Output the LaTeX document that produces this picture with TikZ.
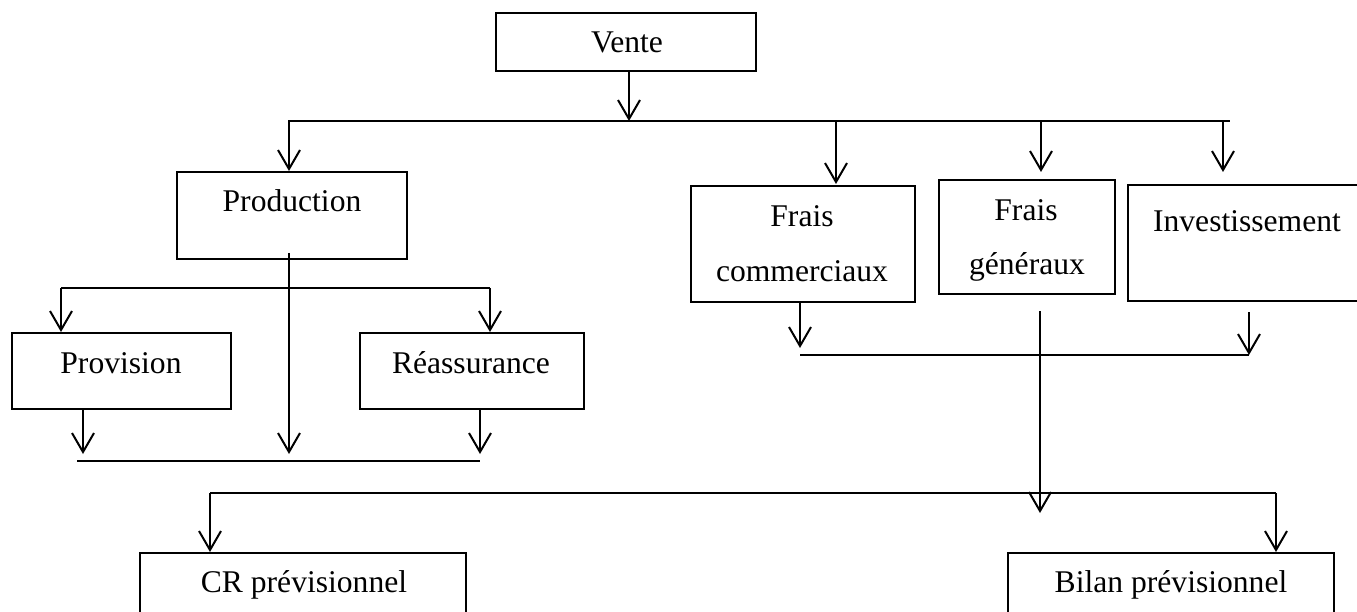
\documentclass[tikz,border=0pt]{standalone}
\usepackage{fontspec}
\setmainfont{Liberation Serif}
\usetikzlibrary{arrows.meta}
\begin{document}
\begin{tikzpicture}[x=1pt,y=-1pt,
  box/.style={draw, line width=2.2pt, inner sep=0pt, outer sep=0pt},
  lbl/.style={anchor=base, inner sep=0pt, font=\fontsize{31.6}{38}\selectfont},
  flow/.style={line width=2pt, -{Straight Barb[length=19pt,width=22pt]}},
  bus/.style={line width=1.7pt}]
\useasboundingbox (0,0) rectangle (1357,612);
\clip (0,0) rectangle (1357,612);

% boxes
\node[box, minimum width=260pt, minimum height=58pt]  (vente) at (626,42) {};
\node[box, minimum width=230pt, minimum height=87pt]  (prod)  at (292,215.5) {};
\node[box, minimum width=219pt, minimum height=76pt]  (prov)  at (121.5,371) {};
\node[box, minimum width=224pt, minimum height=76pt]  (reas)  at (472,371) {};
\node[box, minimum width=224pt, minimum height=116pt] (fc)    at (803,244) {};
\node[box, minimum width=176pt, minimum height=114pt] (fg)    at (1027,237) {};
\node[box, minimum width=252pt, minimum height=116pt] (inv)   at (1254,243) {};
\node[box, minimum width=326pt, minimum height=87pt]  (cr)    at (303,596.5) {};
\node[box, minimum width=326pt, minimum height=87pt]  (bilan) at (1171,596.5) {};

% labels
\node[lbl] (vente-t) at (627,53)  {Vente};
\node[lbl] (prod-t)  at (292,212) {Production};
\node[lbl] (prov-t)  at (121,373) {Provision};
\node[lbl] (reas-t)  at (471,373) {Réassurance};
\node[lbl] (fc-t1)   at (802,227) {Frais};
\node[lbl] (fc-t2)   at (802,282) {commerciaux};
\node[lbl] (fg-t1)   at (1026,221) {Frais};
\node[lbl] (fg-t2)   at (1027,275) {généraux};
\node[lbl] (inv-t)   at (1247,232) {Investissement};
\node[lbl] (cr-t)    at (304,592) {CR prévisionnel};
\node[lbl] (bilan-t) at (1171,592) {Bilan prévisionnel};

% junction points
\coordinate (b1L) at (288,121);
\coordinate (b1R) at (1230,121);
\coordinate (b1v) at (629,121);
\coordinate (b1p) at (289,121);
\coordinate (b1c) at (836,121);
\coordinate (b1g) at (1041,121);
\coordinate (b1i) at (1223,121);

\coordinate (b2L) at (61,288);
\coordinate (b2R) at (490,288);

\coordinate (b3L) at (77,461);
\coordinate (b3R) at (480,461);
\coordinate (b3a) at (83,461);
\coordinate (b3p) at (289,461);

\coordinate (b4L) at (800,355);
\coordinate (b4R) at (1249,355);

\coordinate (fgs) at (1040,311);
\coordinate (fge) at (1040,513);
\coordinate (ins) at (1249,312);

\coordinate (b5L) at (210,493);
\coordinate (b5R) at (1276,493);

% Vente and its branches
\draw[flow] (b1v |- vente.south) -- (b1v);
\draw[bus] (b1L) -- (b1R);
\draw[flow] (b1p) -- ([yshift=1pt]b1p |- prod.north);
\draw[flow] (b1c) -- ([yshift=2pt]b1c |- fc.north);
\draw[flow] (b1g) -- ([yshift=8pt]b1g |- fg.north);
\draw[flow] (b1i) -- ([yshift=13pt]b1i |- inv.north);

% Production branch
\draw[flow] ([yshift=6pt]b3p |- prod.south) -- ([yshift=7pt]b3p);
\draw[bus] (b2L) -- (b2R);
\draw[flow] (b2L) -- ([yshift=1pt]b2L |- prov.north);
\draw[flow] (b2R) -- ([yshift=1pt]b2R |- reas.north);
\draw[flow] (b3a |- prov.south) -- ([yshift=7pt]b3a);
\draw[flow] (b3R |- reas.south) -- ([yshift=7pt]b3R);
\draw[bus] (b3L) -- (b3R);

% charges branch
\draw[flow] (b4L |- fc.south) -- ([yshift=7pt]b4L);
\draw[flow] (ins) -- (b4R);
\draw[bus] (b4L) -- (b4R);
\draw[flow] (fgs) -- (fge);

% final statements
\draw[bus] (b5L) -- (b5R);
\draw[flow] (b5L) -- ([yshift=1pt]b5L |- cr.north);
\draw[flow] (b5R) -- ([yshift=1pt]b5R |- bilan.north);
\end{tikzpicture}
\end{document}
